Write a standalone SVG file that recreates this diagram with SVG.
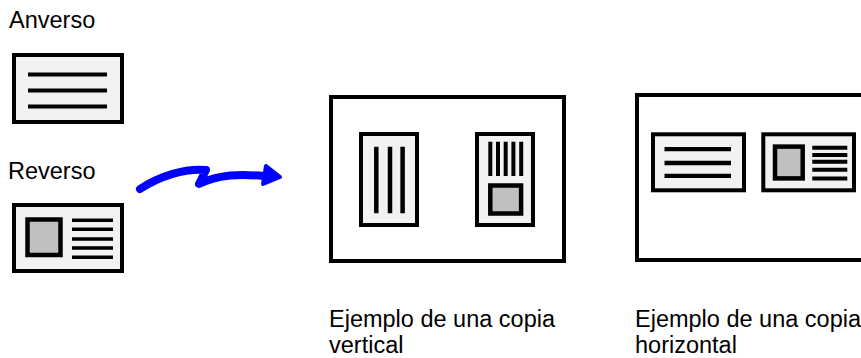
<svg xmlns="http://www.w3.org/2000/svg" width="861" height="358" viewBox="0 0 861 358">
<style>
.t{font-family:"Liberation Sans",Arial,sans-serif;font-size:23.5px;fill:#000}
.card{fill:#f2f2f2;stroke:#000;stroke-width:4}
.frame{fill:#fff;stroke:#000;stroke-width:4}
.pic{fill:#c0c0c0;stroke:#000;stroke-width:4.5}
.ln{stroke:#000;stroke-width:4;fill:none}
.lt{stroke:#000;stroke-width:3.5;fill:none}
</style>
<rect width="861" height="358" fill="#fff"/>
<g id="anverso">
<text class="t" x="9" y="28">Anverso</text>
<rect class="card" x="14" y="55" width="108" height="67"/>
<path class="ln" d="M28 74.5H107M28 90.5H107M28 106.5H107"/>
</g>
<g id="reverso">
<text class="t" x="8" y="179">Reverso</text>
<rect class="card" x="14" y="205" width="108" height="66"/>
<rect class="pic" x="27.5" y="219.5" width="33" height="35.5"/>
<path class="lt" d="M72 220.3H113M72 229.3H113M72 239H113M72 248H113M72 257.3H113"/>
</g>
<g id="connectors">
<path d="M140 189C160 176 185 168 206 170L199 184C220 174 240 174 264 176" fill="none" stroke="#0000ff" stroke-width="8" stroke-linecap="round" stroke-linejoin="round"/>
<path d="M266 166L280 177L263 184Z" fill="#0000ff" stroke="#0000ff" stroke-width="4" stroke-linejoin="round"/>
</g>
<g id="vertical-copy">
<rect class="frame" x="331" y="97" width="233" height="164"/>
<rect class="card" x="361" y="134" width="56" height="91"/>
<path class="ln" d="M376.3 146.7V213.3M390 146.7V213.3M402.6 146.7V213.3" style="stroke-width:4.5"/>
<rect class="card" x="477" y="134" width="56" height="91"/>
<path class="ln" d="M490.3 141.7V176M498 141.7V176M505.7 141.7V176M513.4 141.7V176M521.2 141.7V176"/>
<rect class="pic" x="490.3" y="185.5" width="30.8" height="28"/>
<text class="t" x="329" y="327">Ejemplo de una copia</text>
<text class="t" x="329" y="353">vertical</text>
</g>
<g id="horizontal-copy">
<rect class="frame" x="637" y="95" width="233" height="165"/>
<rect class="card" x="653" y="134.3" width="91" height="56"/>
<path class="ln" d="M664.5 149.2H731M664.5 163H731M664.5 175.8H731" style="stroke-width:4.3"/>
<rect class="card" x="763.3" y="134.3" width="90.7" height="56"/>
<rect class="pic" x="775" y="146.6" width="27.7" height="31.8"/>
<path class="ln" d="M812.3 147.7H847.3M812.3 155H847.3M812.3 161.8H847.3M812.3 169.7H847.3M812.3 178.5H847.3"/>
<text class="t" x="635" y="327">Ejemplo de una copia</text>
<text class="t" x="635" y="353">horizontal</text>
</g>
</svg>
